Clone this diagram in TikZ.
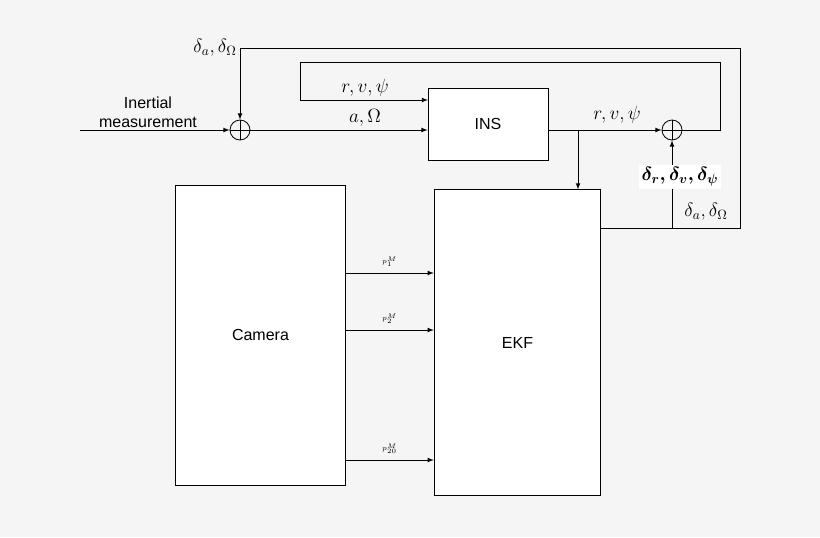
\documentclass[tikz,border=0pt]{standalone}
\usepackage{amsmath,bm}
\usepackage{fontspec}
\setsansfont{Liberation Sans}
\usetikzlibrary{positioning}
\tikzset{
  blk/.style={draw, fill=white, inner sep=0pt, font=\sffamily\large},
  sumj/.style={draw, circle, minimum size=15pt, inner sep=0pt},
  sig/.style={-latex},
  lbl/.style={font=\Large},
}
\begin{document}
\begin{tikzpicture}[x=0.75pt,y=-0.75pt, line width=0.6pt]
        \fill [gray!8] (0,0) rectangle (820,537);
        \useasboundingbox (0,0) rectangle (820,537);

        \node [blk, minimum width=90pt, minimum height=54pt] (ins) at (488,124) {INS};
        \node [blk, minimum width=125pt, minimum height=229pt] (ekf) at (517.5,342.5) {EKF};
        \node [blk, minimum width=127pt, minimum height=225pt] (cam) at (260.5,335) {Camera};

        \node [sumj] (s1) at (240,130) {};
        \node [sumj] (s2) at (672,130) {};
        \draw (s1.north) -- (s1.south) (s1.west) -- (s1.east);
        \draw (s2.north) -- (s2.south) (s2.west) -- (s2.east);

        \coordinate (in) at (80,130);
        \coordinate (br) at (578,130);

        \draw [sig] (in) -- (s1);
        \draw [sig] (s1) -- (s1 -| ins.west);
        \draw [sig] (ins.east |- br) -- (s2);
        \draw [sig] (br) -- (br |- ekf.north);

        % feedback loops
        \draw [sig] (s2.east) -- (720,130) -- (720,62) -- (300,62) -- (300,100) -- (428,100);
        \draw [sig] (ekf.east |- 0,228) -- (740,228) -- (740,48) -- (240,48) -- (s1.north);
        \draw [sig] (672,228) -- (s2.south);

        \foreach \y/\k in {273/1,330/2,460/{20}}
            \draw [sig] (cam.east |- 0,\y) -- (ekf.west |- 0,\y)
                node [midway, above=1pt, font=\tiny] {$p_{\k}^{M}$};

        \node [lbl] at (365,88) {$r,v,\psi$};
        \node [lbl] at (365,118) {$a,\Omega$};
        \node [lbl] at (617,115) {$r,v,\psi$};
        \node [lbl] at (215,48) {$\delta_a,\delta_\Omega$};
        \node [lbl] at (706,212) {$\delta_a,\delta_\Omega$};
        \node [lbl, fill=white, inner sep=2pt] at (680,177) {$\bm{\delta_r,\delta_v,\delta_\psi}$};
        \node [align=center, font=\sffamily\large, inner sep=0pt] at (148,112) {Inertial\\measurement};
\end{tikzpicture}
\end{document}
